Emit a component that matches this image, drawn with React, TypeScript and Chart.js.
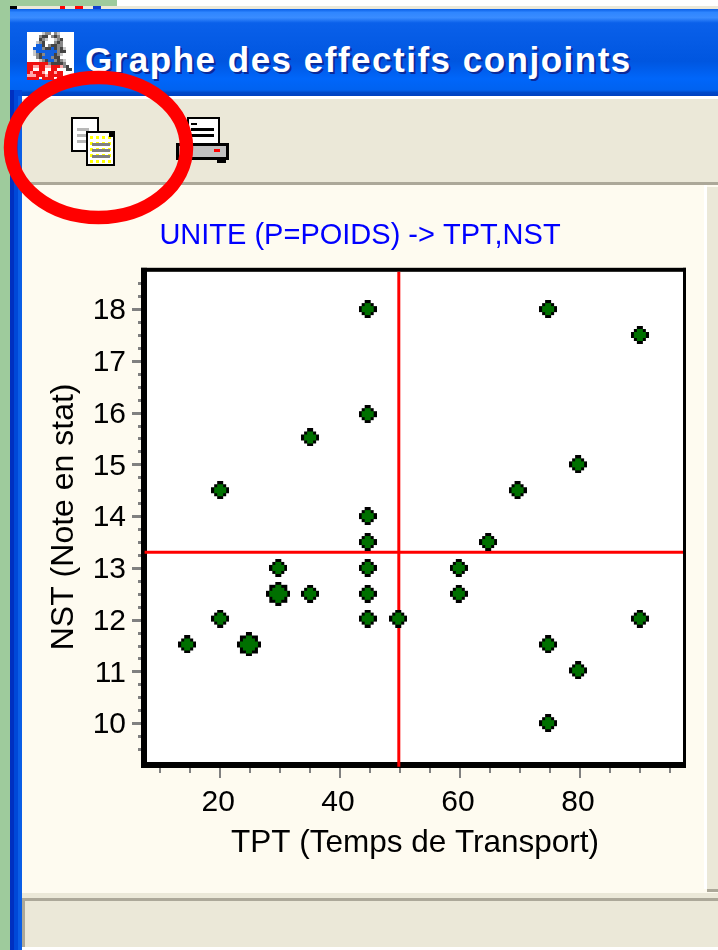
import React, { useEffect, useRef } from "react";
import { Chart, registerables } from "chart.js";

Chart.register(...registerables);

const windowTitle = "Graphe des effectifs conjoints";
const chartTitle = "UNITE (P=POIDS) -> TPT,NST";
const xAxisTitle = "TPT (Temps de Transport)";
const yAxisTitle = "NST (Note en stat)";

const xValues = [44.6, 74.7, 90, 44.6, 35, 79.7, 20, 69.6, 44.6, 44.6, 64.7, 29.7, 44.6, 59.8, 29.7, 35, 44.6, 59.8, 20, 44.6, 49.7, 90, 14.5, 24.8, 74.7, 79.7, 74.7];
const yValues = [18, 18, 17.5, 15.97, 15.52, 15, 14.5, 14.5, 14, 13.5, 13.5, 13, 13, 13, 12.5, 12.5, 12.5, 12.5, 12.02, 12.02, 12.02, 12.02, 11.52, 11.52, 11.52, 11.02, 10];
const weights = [1, 1, 1, 1, 1, 1, 1, 1, 1, 1, 1, 1, 1, 1, 2, 1, 1, 1, 1, 1, 1, 1, 1, 2, 1, 1, 1];

const meanX = 49.8;
const meanY = 13.3;

const xRange = [7.8, 97.2];
const yRange = [9.25, 18.72];
const xTickValues = [10, 15, 20, 25, 30, 35, 40, 45, 50, 55, 60, 65, 70, 75, 80, 85, 90, 95];
const yTickValues = [9.5, 9.75, 10, 10.25, 10.5, 10.75, 11, 11.25, 11.5, 11.75, 12, 12.25, 12.5, 12.75, 13, 13.25, 13.5, 13.75, 14, 14.25, 14.5, 14.75, 15, 15.25, 15.5, 15.75, 16, 16.25, 16.5, 16.75, 17, 17.25, 17.5, 17.75, 18, 18.25, 18.5];
const xLabels = [20, 40, 60, 80];
const yLabels = [10, 11, 12, 13, 14, 15, 16, 17, 18];

const FONT = "'Liberation Sans', Arial, sans-serif";

const smallMarker = ["..KK..", ".KGGK.", "KGGGGK", "KGGGGK", ".KGGK.", "..KK.."];
const bigMarker = ["...KK...", ".KKGGKK.", ".KGGGGK.", "KGGGGGGK", "KGGGGGGK", ".KGGGGK.", ".KKGGKK.", "...KK..."];

const iconSprite = [
  ".....lgg.gl.....",
  "....gdd.gdg.....",
  "....dgl..lgd....",
  "...lgd...gdg....",
  "...bbd.gddgg....",
  "..bbbgddbdgdl...",
  "..lbbbbbbbgdd...",
  "..lgdgbbbdgl....",
  "...gdbbbgdd.....",
  "....lgdbbgdgl...",
  "rrrrrrrgddddg...",
  "rrpprrpprrrpgd..",
  "rr..rr..rr...dd.",
  "rprrrp.rrprr....",
  "ppprrrprrrrr....",
  "rrrr.rrrr.rrrr..",
];
const iconColors: Record<string, string> = {
  l: "#c8c8c8",
  g: "#888888",
  d: "#444444",
  b: "#1060e0",
  r: "#f01010",
  p: "#ffa8a8",
};

function makeMarker(rows: string[]) {
  const block = 3;
  const c = document.createElement("canvas");
  c.width = rows[0].length * block;
  c.height = rows.length * block;
  const g = c.getContext("2d")!;
  rows.forEach((row, r) => {
    row.split("").forEach((ch, col) => {
      if (ch === ".") return;
      g.fillStyle = ch === "K" ? "#000000" : "#007000";
      g.fillRect(col * block, r * block, block, block);
    });
  });
  return c;
}

const framePlugin = {
  id: "frame",
  beforeDatasetsDraw(chart: any) {
    const { ctx, chartArea: a, scales } = chart;
    ctx.save();
    ctx.fillStyle = "#ffffff";
    ctx.fillRect(a.left, a.top, a.right - a.left, a.bottom - a.top);
    ctx.fillStyle = "#808080";
    scales.x.ticks.forEach((t: any) => {
      const px = Math.round(scales.x.getPixelForValue(t.value));
      const major = xLabels.includes(t.value);
      ctx.fillRect(px - 1, a.bottom + 5, 2, major ? 11 : 6);
    });
    scales.y.ticks.forEach((t: any) => {
      const py = Math.round(scales.y.getPixelForValue(t.value));
      const major = yLabels.includes(t.value);
      ctx.fillRect(a.left - (major ? 15 : 9), py - 1, major ? 10 : 4, 3);
    });
    ctx.fillStyle = "#000000";
    ctx.fillRect(a.left - 6, a.top - 4, 6, a.bottom - a.top + 10);
    ctx.fillRect(a.left - 6, a.bottom, a.right - a.left + 9, 6);
    ctx.fillRect(a.left - 6, a.top - 4, a.right - a.left + 9, 4);
    ctx.fillRect(a.right, a.top - 4, 3, a.bottom - a.top + 10);
    ctx.restore();
  },
};

function Box(p: { x: number; y: number; w: number; h: number; c: string }) {
  return <rect x={p.x} y={p.y} width={p.w} height={p.h} fill={p.c} />;
}

function Chrome() {
  const yellowDots = [];
  for (let r = 0; r < 5; r++) {
    for (let c = 0; c < 4; c++) {
      yellowDots.push(<Box key={`${r}-${c}`} x={90 + c * 6} y={136 + r * 6} w={3} h={3} c="#ffff00" />);
    }
  }
  return (
    <svg width={718} height={950} style={{ position: "absolute", left: 0, top: 0 }} shapeRendering="crispEdges">
      <defs>
        <linearGradient id="bar" x1="0" y1="0" x2="0" y2="1">
          <stop offset="0" stopColor="#0a5ee6" />
          <stop offset="0.04" stopColor="#2f86ff" />
          <stop offset="0.1" stopColor="#3a8cff" />
          <stop offset="0.16" stopColor="#0a60ea" />
          <stop offset="0.6" stopColor="#0056e0" />
          <stop offset="0.8" stopColor="#0066fa" />
          <stop offset="0.93" stopColor="#0062f0" />
          <stop offset="0.96" stopColor="#0048c8" />
          <stop offset="1" stopColor="#0040c0" />
        </linearGradient>
      </defs>
      <Box x={0} y={0} w={718} h={950} c="#ffffff" />
      <Box x={0} y={0} w={117} h={6} c="#9ecb9c" />
      <Box x={0} y={0} w={10} h={950} c="#9ecb9c" />
      <Box x={10} y={6} w={708} h={4} c="#ebe8d8" />
      <Box x={60} y={6} w={5} h={3} c="#ff0000" />
      <Box x={75} y={6} w={8} h={3} c="#ff0000" />
      <Box x={93} y={6} w={8} h={3} c="#1040d0" />
      <Box x={10} y={6} w={7} h={3} c="#000000" />
      <Box x={10} y={13} w={6} h={3} c="#000000" />
      <Box x={10} y={9} w={708} h={87} c="url(#bar)" />
      <Box x={10} y={90} w={12} h={860} c="#0048d8" />
      <Box x={10} y={90} w={4} h={860} c="#0030c0" />
      <Box x={18} y={96} w={4} h={854} c="#0a5ee6" />
      <Box x={22} y={96} w={696} h={3} c="#ffffff" />
      <Box x={22} y={99} w={696} h={83} c="#ebe8d8" />
      <Box x={22} y={182} w={696} h={3} c="#aca899" />
      <Box x={22} y={185} w={696} h={708} c="#fefbf0" />
      <Box x={704} y={185} w={3} h={704} c="#ffffff" />
      <Box x={707} y={187} w={11} h={702} c="#ebe8d8" />
      <Box x={707} y={889} w={11} h={3} c="#aca899" />
      <Box x={22} y={893} w={696} h={54} c="#ebe8d8" />
      <Box x={22} y={898} w={696} h={3} c="#aca899" />
      <Box x={22} y={898} w={3} h={49} c="#aca899" />

      {/* window icon */}
      <Box x={27} y={32} w={47} h={47} c="#ffffff" />
      {iconSprite.map((row, r) =>
        row.split("").map((ch, col) =>
          ch === "." ? null : (
            <Box key={`i${r}-${col}`} x={27 + col * 3} y={32 + r * 3} w={3} h={3} c={iconColors[ch]} />
          )
        )
      )}

      {/* copy icon */}
      <Box x={71} y={117} w={28} h={35} c="#000000" />
      <Box x={73} y={119} w={24} h={31} c="#ffffff" />
      <Box x={77} y={128} w={12} h={3} c="#b8b8b8" />
      <Box x={77} y={134} w={12} h={3} c="#b8b8b8" />
      <Box x={77} y={140} w={12} h={3} c="#b8b8b8" />
      <Box x={86} y={131} w={29} h={35} c="#000000" />
      <Box x={88} y={133} w={25} h={31} c="#ffffff" />
      {yellowDots}
      <Box x={92} y={143} w={18} h={3} c="#808080" />
      <Box x={92} y={149} w={18} h={3} c="#808080" />
      <Box x={92} y={155} w={18} h={3} c="#808080" />
      <Box x={109} y={131} w={6} h={6} c="#000000" />

      {/* printer icon */}
      <Box x={187} y={117} w={33} h={28} c="#000000" />
      <Box x={189} y={119} w={29} h={24} c="#ffffff" />
      <Box x={191} y={123} w={6} h={2} c="#000000" />
      <Box x={191} y={128} w={23} h={3} c="#000000" />
      <Box x={191} y={134} w={23} h={3} c="#000000" />
      <Box x={176} y={143} w={53} h={17} c="#000000" />
      <Box x={179} y={146} w={47} h={11} c="#c0c0c0" />
      <Box x={214} y={149} w={6} h={3} c="#ff0000" />
      <Box x={217} y={160} w={9} h={3} c="#000000" />
    </svg>
  );
}

export default function App() {
  const ref = useRef<HTMLCanvasElement | null>(null);

  useEffect(() => {
    if (!ref.current) return;
    const small = makeMarker(smallMarker);
    const big = makeMarker(bigMarker);
    const chart = new Chart(ref.current, {
      type: "scatter",
      data: {
        datasets: [
          {
            label: "TPT,NST",
            data: xValues.map((x, i) => ({ x, y: yValues[i] })),
            backgroundColor: "#007000",
            borderColor: "#000000",
            pointStyle: weights.map((w) => (w > 1 ? big : small)),
            pointRadius: weights.map((w) => (w > 1 ? 12 : 9)),
            clip: false,
          },
          {
            label: "Moyenne TPT",
            data: [
              { x: meanX, y: 9.16 },
              { x: meanX, y: yRange[1] },
            ],
            showLine: true,
            borderColor: "#ff0000",
            borderWidth: 3,
            pointRadius: 0,
            clip: false,
          },
          {
            label: "Moyenne NST",
            data: [
              { x: 7.4, y: meanY },
              { x: xRange[1], y: meanY },
            ],
            showLine: true,
            borderColor: "#ff0000",
            borderWidth: 3,
            pointRadius: 0,
            clip: false,
          },
        ],
      } as any,
      options: {
        animation: false,
        responsive: false,
        layout: { padding: { left: 37, right: 35, top: 0, bottom: 0 } },
        plugins: {
          legend: { display: false },
          tooltip: { enabled: false },
          title: {
            display: true,
            text: chartTitle,
            color: "#0000ff",
            font: { family: FONT, size: 29, weight: "normal", lineHeight: 1.2 },
            padding: { top: 219, bottom: 18 },
          },
        },
        scales: {
          x: {
            type: "linear",
            min: xRange[0],
            max: xRange[1],
            afterBuildTicks: (s: any) => {
              s.ticks = xTickValues.map((value) => ({ value }));
            },
            afterFit: (s: any) => {
              s.height = 188;
            },
            grid: { display: false, drawTicks: false },
            border: { display: false },
            ticks: {
              autoSkip: false,
              maxRotation: 0,
              padding: 23,
              labelOffset: -2,
              color: "#000000",
              font: { family: FONT, size: 30 },
              callback: (v: any) => (xLabels.includes(v) ? String(v) : ""),
            },
            title: {
              display: true,
              text: xAxisTitle,
              color: "#000000",
              font: { family: FONT, size: 31.5 },
              padding: { top: 0, bottom: 88 },
            },
          },
          y: {
            type: "linear",
            min: yRange[0],
            max: yRange[1],
            afterBuildTicks: (s: any) => {
              s.ticks = yTickValues.map((value) => ({ value }));
            },
            afterFit: (s: any) => {
              s.width = 110;
            },
            grid: { display: false, drawTicks: false },
            border: { display: false },
            ticks: {
              autoSkip: false,
              padding: 21,
              labelOffset: 2,
              color: "#000000",
              font: { family: FONT, size: 30 },
              callback: (v: any) => (yLabels.includes(v) ? String(v) : ""),
            },
            title: {
              display: true,
              text: yAxisTitle,
              color: "#000000",
              font: { family: FONT, size: 32 },
              padding: { top: 8, bottom: 0 },
            },
          },
        },
      } as any,
      plugins: [framePlugin],
    });
    return () => chart.destroy();
  }, []);

  return (
    <div style={{ position: "fixed", left: 0, top: 0, width: 718, height: 950, overflow: "hidden" }}>
      <Chrome />
      <div
        style={{
          position: "absolute",
          left: 85,
          top: 37,
          fontFamily: FONT,
          fontWeight: 700,
          fontSize: 35,
          lineHeight: "46px",
          letterSpacing: 1.5,
          color: "#ffffff",
          whiteSpace: "nowrap",
          textShadow: "2px 2px 0 #0a2a9a",
        }}
      >
        {windowTitle}
      </div>
      <canvas ref={ref} width={718} height={950} style={{ position: "absolute", left: 0, top: 0, display: "block" }} />
      <svg width={718} height={950} style={{ position: "absolute", left: 0, top: 0, pointerEvents: "none" }}>
        <ellipse cx={98.5} cy={147.5} rx={88} ry={70} fill="none" stroke="#ff0000" strokeWidth={13.5} />
      </svg>
    </div>
  );
}
